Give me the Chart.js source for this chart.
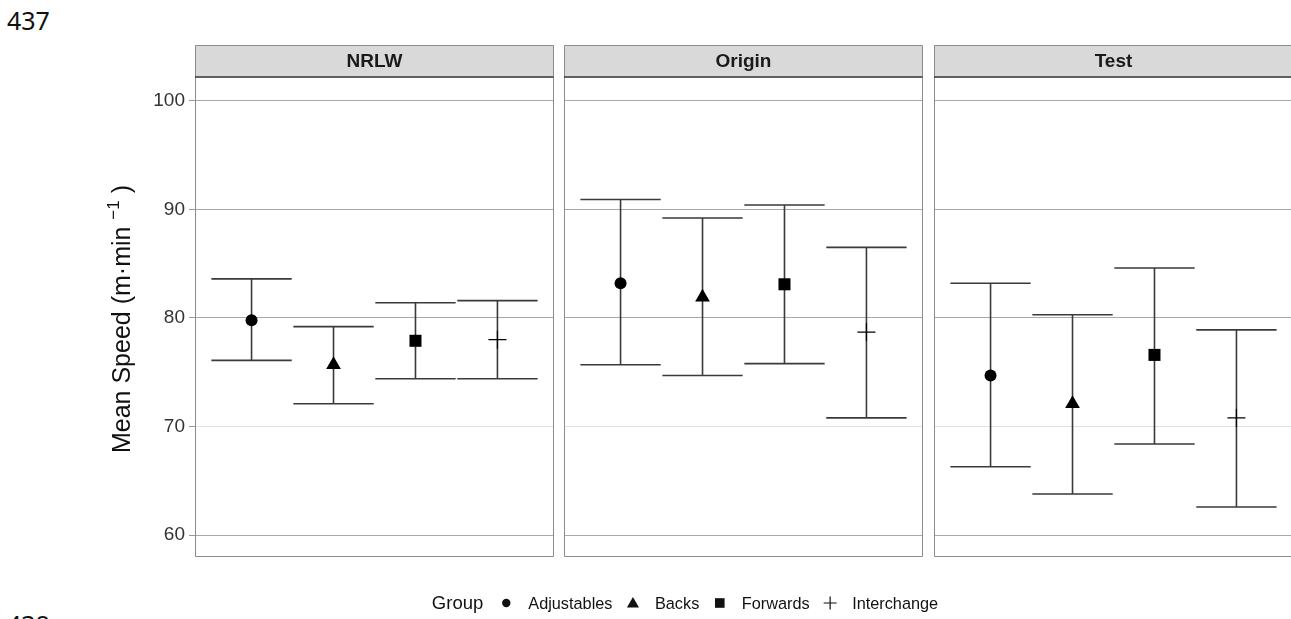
<!DOCTYPE html>
<html>
<head>
<meta charset="utf-8">
<script src="https://cdn.jsdelivr.net/npm/chart.js@4.4.0/dist/chart.umd.min.js"></script>
<style>
  html, body { margin: 0; padding: 0; background: #fff; overflow: hidden; }
  #wrap { position: relative; width: 1291px; height: 619px; overflow: hidden; }
  #wrap canvas { position: absolute; left: 0; top: 0; }
  .pageno { position: absolute; left: 7px; font-family: 'Noto Sans', sans-serif; font-size: 25px; line-height: 25px; color: #111; }
</style>
</head>
<body>
<div id="wrap">
  <div class="pageno" style="top:8px">437</div>
  <div class="pageno" style="top:612px">438</div>
  <canvas id="p0" width="1291" height="619"></canvas>
  <canvas id="p1" width="1291" height="619"></canvas>
  <canvas id="p2" width="1291" height="619"></canvas>
</div>
<script>
// facets and groups
const panelNames = ['NRLW', 'Origin', 'Test'];
const groups = ['Adjustables', 'Backs', 'Forwards', 'Interchange'];

// mean speed and CI bounds per group (m/min)
const meanNRLW = [79.8, 75.7, 77.9, 78.0];
const lowNRLW = [76.1, 72.1, 74.4, 74.4];
const highNRLW = [83.6, 79.2, 81.4, 81.6];

const meanOrigin = [83.2, 81.9, 83.1, 78.7];
const lowOrigin = [75.7, 74.7, 75.8, 70.8];
const highOrigin = [90.9, 89.2, 90.4, 86.5];

const meanTest = [74.7, 72.1, 76.6, 70.8];
const lowTest = [66.3, 63.8, 68.4, 62.6];
const highTest = [83.2, 80.3, 84.6, 78.9];

const yTicks = [60, 70, 80, 90, 100];

// styling
const shapes = ['circle', 'triangle', 'rect', 'cross'];
const shapeSize = [6, 8.5, 8.5, 9];
const W = 1291, H = 619;
const panelLeft = [195, 564, 934];
const panelWidth = 359;
const xMin = -0.69, xSpan = 4.38;
const plotTop = 77, plotBottom = 556, stripTop = 45;
const FONT = "'Liberation Sans', Arial, sans-serif";

Chart.defaults.font.family = FONT;

const allMeans = [meanNRLW, meanOrigin, meanTest];
const allLows = [lowNRLW, lowOrigin, lowTest];
const allHighs = [highNRLW, highOrigin, highTest];

function drawShape(ctx, shape, x, y, r) {
  ctx.beginPath();
  if (shape === 'circle') {
    ctx.arc(x, y, r, 0, Math.PI * 2);
    ctx.fill();
  } else if (shape === 'triangle') {
    ctx.moveTo(x, y - r);
    ctx.lineTo(x + r * 0.866, y + r / 2);
    ctx.lineTo(x - r * 0.866, y + r / 2);
    ctx.closePath();
    ctx.fill();
  } else if (shape === 'rect') {
    ctx.fillRect(x - r, y - r, 2 * r, 2 * r);
  } else {
    ctx.lineWidth = 1.2;
    ctx.moveTo(x - r, y); ctx.lineTo(x + r, y);
    ctx.moveTo(x, y - r); ctx.lineTo(x, y + r);
    ctx.stroke();
  }
}

function panelPlugin(i, cut) {
  return {
    id: 'panel' + i,
    beforeDatasetsDraw(chart) {
      // error bars
      const { ctx, scales: { x, y } } = chart;
      ctx.save();
      ctx.strokeStyle = '#3a3a3a';
      ctx.lineWidth = 1.6;
      allLows[i].forEach((lo, k) => {
        const hi = allHighs[i][k];
        const xc = x.getPixelForValue(k);
        const xl = x.getPixelForValue(k - 0.49);
        const xr = x.getPixelForValue(k + 0.49);
        const yl = y.getPixelForValue(lo);
        const yh = y.getPixelForValue(hi);
        ctx.beginPath();
        ctx.moveTo(xl, yh); ctx.lineTo(xr, yh);
        ctx.moveTo(xc, yh); ctx.lineTo(xc, yl);
        ctx.moveTo(xl, yl); ctx.lineTo(xr, yl);
        ctx.stroke();
      });
      ctx.restore();
    },
    afterDraw(chart) {
      const { ctx, chartArea: a } = chart;
      const l = a.left + 0.5, r = cut ? a.right + 2 : a.right - 0.5;
      ctx.save();
      // strip
      ctx.fillStyle = '#d9d9d9';
      ctx.fillRect(a.left, stripTop, r - a.left, a.top - stripTop);
      // panel + strip border
      ctx.strokeStyle = '#8c8c8c';
      ctx.lineWidth = 1;
      ctx.beginPath();
      ctx.moveTo(r, stripTop + 0.5); ctx.lineTo(l, stripTop + 0.5);
      ctx.lineTo(l, a.bottom + 0.5); ctx.lineTo(r, a.bottom + 0.5);
      if (!cut) ctx.closePath();
      ctx.stroke();
      ctx.strokeStyle = '#333';
      ctx.lineWidth = 1.6;
      ctx.beginPath();
      ctx.moveTo(a.left, a.top); ctx.lineTo(r, a.top);
      ctx.stroke();
      ctx.fillStyle = '#1a1a1a';
      ctx.font = 'bold 19px ' + FONT;
      ctx.textAlign = 'center';
      ctx.textBaseline = 'middle';
      ctx.fillText(panelNames[i], a.left + panelWidth / 2, (stripTop + a.top) / 2 + 1);
      ctx.restore();
    }
  };
}

// y title and legend on the first panel's canvas
const extrasPlugin = {
  id: 'extras',
  afterDraw(chart) {
    const ctx = chart.ctx;
    ctx.save();
    // y axis title with superscript
    const fs = 25;
    const main = 'Mean Speed (m\u00b7min ';
    const sup = '\u22121';
    const close = ')';
    const fsSup = Math.round(fs * 0.68);
    const gap = 7;
    ctx.font = fs + 'px ' + FONT;
    const w1 = ctx.measureText(main).width;
    const w3 = ctx.measureText(close).width;
    ctx.font = fsSup + 'px ' + FONT;
    const w2 = ctx.measureText(sup).width;
    const total = w1 + w2 + gap + w3;
    ctx.translate(130, 319);
    ctx.rotate(-Math.PI / 2);
    ctx.fillStyle = '#111';
    ctx.textBaseline = 'alphabetic';
    ctx.textAlign = 'left';
    let u = -total / 2;
    ctx.font = fs + 'px ' + FONT;
    ctx.fillText(main, u, 0);
    u += w1;
    ctx.font = fsSup + 'px ' + FONT;
    ctx.fillText(sup, u, -fs * 0.45);
    u += w2 + gap;
    ctx.font = fs + 'px ' + FONT;
    ctx.fillText(close, u, 0);
    ctx.restore();

    // legend
    ctx.save();
    const ly = 603, base = 609;
    ctx.fillStyle = '#111';
    ctx.strokeStyle = '#111';
    ctx.textAlign = 'left';
    ctx.textBaseline = 'alphabetic';
    ctx.font = '18.5px ' + FONT;
    const wTitle = ctx.measureText('Group').width;
    ctx.font = '16.3px ' + FONT;
    const widths = groups.map(g => ctx.measureText(g).width);
    const total2 = wTitle + 23 + widths.reduce((s, w) => s + w + 22, 0) + 20.5 * (groups.length - 1);
    let x = 685 - total2 / 2;
    ctx.font = '18.5px ' + FONT;
    ctx.fillText('Group', x, base);
    x += wTitle + 23;
    const legSize = [4.2, 7, 4.8, 6.5];
    groups.forEach((g, k) => {
      drawShape(ctx, shapes[k], x, shapes[k] === 'triangle' ? ly + 1 : ly, legSize[k]);
      x += 22;
      ctx.font = '16.3px ' + FONT;
      ctx.fillText(g, x, base);
      x += widths[k] + 20.5;
    });
    ctx.restore();
  }
};

function makePanel(i) {
  const first = i === 0;
  const right = Math.min(panelLeft[i] + panelWidth, W);
  const cut = right < panelLeft[i] + panelWidth;
  const xMax = xMin + xSpan * (right - panelLeft[i]) / panelWidth;
  new Chart(document.getElementById('p' + i), {
    type: 'scatter',
    data: {
      datasets: [{
        label: panelNames[i],
        data: groups.map((g, k) => ({ x: k, y: allMeans[i][k] })),
        pointStyle: shapes,
        pointRadius: shapeSize,
        pointHoverRadius: shapeSize,
        pointBackgroundColor: '#000',
        pointBorderColor: '#000',
        pointBorderWidth: [0, 0, 0, 1.2]
      }]
    },
    options: {
      responsive: false,
      animation: false,
      devicePixelRatio: 1,
      events: [],
      layout: {
        autoPadding: false,
        padding: {
          left: first ? 0 : panelLeft[i],
          right: W - right,
          top: plotTop,
          bottom: H - plotBottom
        }
      },
      plugins: { legend: { display: false }, tooltip: { enabled: false } },
      scales: {
        x: { type: 'linear', min: xMin, max: xMax, display: false },
        y: {
          min: 58.09,
          max: 102.18,
          afterFit: s => { s.width = first ? panelLeft[0] : 0; },
          afterBuildTicks: s => { s.ticks = yTicks.map(v => ({ value: v })); },
          ticks: { display: first, color: '#333', font: { size: 19 }, padding: 4 },
          grid: {
            color: c => (c.tick && c.tick.value === 70 ? '#e2e2e2' : '#a9a9a9'),
            tickColor: '#999',
            tickLength: 6,
            drawTicks: first,
            lineWidth: 1
          },
          border: { display: false }
        }
      }
    },
    plugins: first ? [panelPlugin(i, cut), extrasPlugin] : [panelPlugin(i, cut)]
  });
}

panelNames.forEach((p, i) => makePanel(i));
</script>
</body>
</html>
